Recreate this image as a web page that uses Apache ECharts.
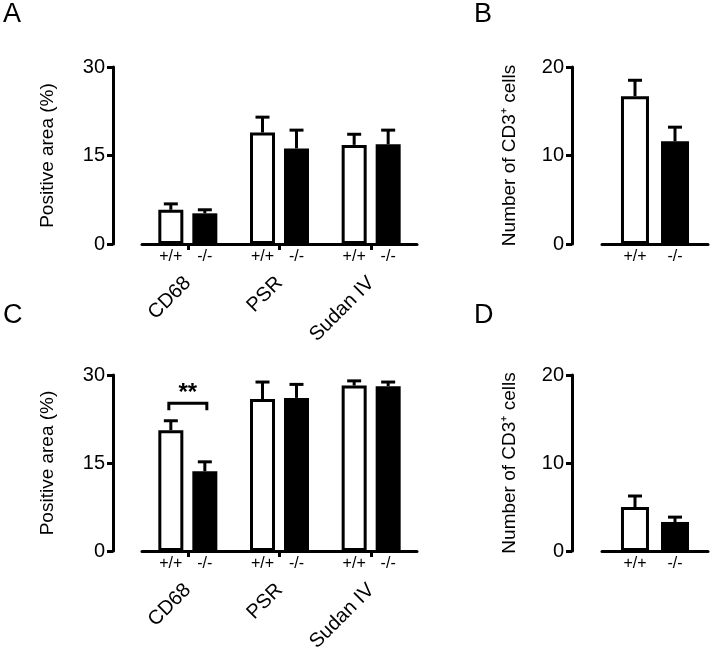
<!DOCTYPE html>
<html>
<head>
<meta charset="utf-8">
<script src="https://cdn.jsdelivr.net/npm/echarts@6/dist/echarts.min.js"></script>
<style>html,body{margin:0;padding:0;background:#fff;}#main{width:714px;height:661px;}</style>
</head>
<body>
<div id="main"></div>
<script>
// ---- data ----
const stains = ['CD68', 'PSR', 'Sudan IV'];
const genotypes = ['+/+', '-/-'];
// Panel A: positive area (%)
const aWtMean = [5.8, 18.9, 16.8];
const aWtSem  = [1.0, 2.6, 1.8];
const aKoMean = [5.2, 16.2, 16.9];
const aKoSem  = [0.6, 3.1, 2.4];
// Panel B: number of CD3+ cells
const bMean = [16.7, 11.6];
const bSem  = [1.8, 1.6];
// Panel C: positive area (%)
const cWtMean = [20.6, 25.9, 28.2];
const cWtSem  = [1.6, 2.9, 0.8];
const cKoMean = [13.6, 26.1, 28.1];
const cKoSem  = [1.6, 2.3, 0.7];
// Panel D: number of CD3+ cells
const dMean = [5.0, 3.3];
const dSem  = [1.25, 0.55];
// significance (panel C)
const sigCats = [0];
const sigLevel = [25.2];
const sigText = ['**'];
const areaTicks = {min: 0, max: 30, interval: 15};
const cellTicks = {min: 0, max: 20, interval: 10};

// ---- style ----
const FONT = "'Liberation Sans', Arial, Helvetica, sans-serif";
const BLK = '#000';

function errSeries(gi, means, sems, shift, capHalf) {
  return {
    type: 'custom', xAxisIndex: gi, yAxisIndex: gi, z: 5, silent: true,
    data: means.map((m, i) => [i, m, m + sems[i]]),
    renderItem: function (params, api) {
      const c = api.value(0), m = api.value(1), t = api.value(2);
      const p0 = api.coord([c, m]), p1 = api.coord([c, t]);
      const x = p0[0] + shift;
      return {type: 'group', children: [
        {type: 'line', shape: {x1: x, y1: p0[1], x2: x, y2: p1[1]}, style: {stroke: BLK, lineWidth: 3}},
        {type: 'line', shape: {x1: x - capHalf, y1: p1[1], x2: x + capHalf, y2: p1[1]}, style: {stroke: BLK, lineWidth: 3}}
      ]};
    }
  };
}

function pairErrSeries(gi, means, sems, shift, capHalf) {
  return {
    type: 'custom', xAxisIndex: gi, yAxisIndex: gi, z: 5, silent: true,
    data: means.map((m, i) => [0, m, m + sems[i], i]),
    renderItem: function (params, api) {
      const c = api.value(0), m = api.value(1), t = api.value(2), k = api.value(3);
      const p0 = api.coord([c, m]), p1 = api.coord([c, t]);
      const x = p0[0] + (k === 0 ? -shift : shift);
      return {type: 'group', children: [
        {type: 'line', shape: {x1: x, y1: p0[1], x2: x, y2: p1[1]}, style: {stroke: BLK, lineWidth: 3}},
        {type: 'line', shape: {x1: x - capHalf, y1: p1[1], x2: x + capHalf, y2: p1[1]}, style: {stroke: BLK, lineWidth: 3}}
      ]};
    }
  };
}

function barSeries(gi, data, wt, barW, gap) {
  return {
    type: 'bar', xAxisIndex: gi, yAxisIndex: gi, barWidth: barW, barGap: gap,
    data: data,
    itemStyle: wt ? {color: '#fff', borderColor: BLK, borderWidth: 3} : {color: BLK, borderColor: BLK, borderWidth: 0},
    label: {show: true, position: 'bottom', distance: 5, formatter: wt ? genotypes[0] : genotypes[1],
      fontFamily: FONT, fontSize: 16, color: BLK},
    silent: true
  };
}

function yAx(gi, ticks, name, offset, gap) {
  return {
    type: 'value', gridIndex: gi, min: ticks.min, max: ticks.max, interval: ticks.interval,
    offset: offset,
    axisLine: {show: true, lineStyle: {color: BLK, width: 3}},
    axisTick: {show: true, length: 6, lineStyle: {color: BLK, width: 3}},
    axisLabel: {fontFamily: FONT, fontSize: 20, color: BLK, margin: 8},
    splitLine: {show: false},
    name: name, nameLocation: 'middle', nameGap: gap,
    nameTextStyle: {fontFamily: FONT, fontSize: 19, color: BLK}
  };
}

function xAx(gi, cats, showTicks) {
  return {
    type: 'category', gridIndex: gi, data: cats, position: 'bottom', offset: 28,
    axisLine: {show: true, lineStyle: {color: BLK, width: 3}},
    axisTick: {show: showTicks, alignWithLabel: true, length: 6, lineStyle: {color: BLK, width: 3}},
    axisLabel: {show: showTicks, rotate: 45, fontFamily: FONT, fontSize: 20, color: BLK, margin: 8},
    splitLine: {show: false}
  };
}

const chart = echarts.init(document.getElementById('main'), null, {renderer: 'canvas'});
const option = {
  backgroundColor: '#fff',
  animation: false,
  textStyle: {fontFamily: FONT},
  grid: [
    {left: 142, right: 297, top: 67, height: 177},
    {left: 602, right: 6, top: 67, height: 177},
    {left: 142, right: 297, top: 375, height: 176},
    {left: 602, right: 6, top: 375, height: 176}
  ],
  xAxis: [xAx(0, stains, true), xAx(1, [''], false), xAx(2, stains, true), xAx(3, [''], false)],
  yAxis: [
    yAx(0, areaTicks, 'Positive area (%)', 29, 56),
    yAx(1, cellTicks, 'Number of CD3\u207A cells', 30, 53),
    yAx(2, areaTicks, 'Positive area (%)', 29, 56),
    yAx(3, cellTicks, 'Number of CD3\u207A cells', 30, 53)
  ],
  graphic: [
    {type: 'text', left: 3, top: 1, style: {text: 'A', fontFamily: FONT, fontSize: 27, fill: BLK}},
    {type: 'text', left: 474, top: 1, style: {text: 'B', fontFamily: FONT, fontSize: 27, fill: BLK}},
    {type: 'text', left: 3, top: 302, style: {text: 'C', fontFamily: FONT, fontSize: 27, fill: BLK}},
    {type: 'text', left: 474, top: 302, style: {text: 'D', fontFamily: FONT, fontSize: 27, fill: BLK}}
  ],
  series: [
    barSeries(0, aWtMean, true, 25, '36%'),
    barSeries(0, aKoMean, false, 25, '36%'),
    errSeries(0, aWtMean, aWtSem, -17, 7),
    errSeries(0, aKoMean, aKoSem, 17, 7),

    barSeries(1, [bMean[0]], true, 28, '43%'),
    barSeries(1, [bMean[1]], false, 28, '43%'),
    pairErrSeries(1, bMean, bSem, 20, 7),

    barSeries(2, cWtMean, true, 25, '36%'),
    barSeries(2, cKoMean, false, 25, '36%'),
    errSeries(2, cWtMean, cWtSem, -17, 7),
    errSeries(2, cKoMean, cKoSem, 17, 7),
    {type: 'custom', xAxisIndex: 2, yAxisIndex: 2, z: 6, silent: true,
      data: sigCats.map((c, i) => [c, sigLevel[i], i]),
      renderItem: function (params, api) {
        const c = api.value(0), lv = api.value(1), i = api.value(2);
        const p = api.coord([c, lv]);
        const xl = p[0] - 19, xr = p[0] + 19;
        return {type: 'group', children: [
          {type: 'polyline', shape: {points: [[xl, p[1] + 7], [xl, p[1]], [xr, p[1]], [xr, p[1] + 7]]},
            style: {stroke: BLK, lineWidth: 3, fill: null}},
          {type: 'text', x: p[0], y: p[1] - 22, style: {text: sigText[i], fontFamily: FONT, fontSize: 24,
            fontWeight: 'bold', fill: BLK, align: 'center', verticalAlign: 'top'}}
        ]};
      }},

    barSeries(3, [dMean[0]], true, 28, '43%'),
    barSeries(3, [dMean[1]], false, 28, '43%'),
    pairErrSeries(3, dMean, dSem, 20, 7)
  ]
};
chart.setOption(option);
</script>
</body>
</html>
